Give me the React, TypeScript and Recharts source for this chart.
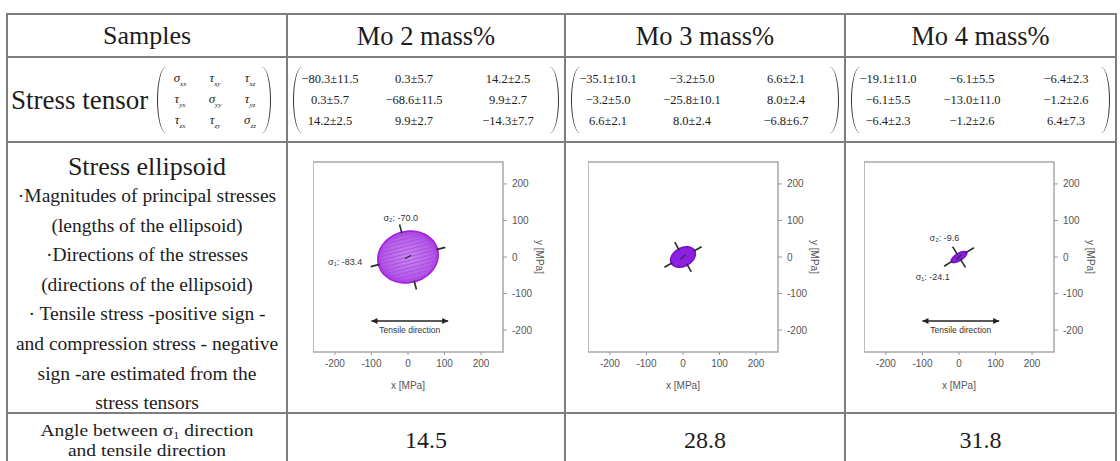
import React from "react";
import { ScatterChart, Scatter, XAxis, YAxis, ReferenceArea } from "recharts";

// table content
const sampleNames = ["Mo 2 mass%", "Mo 3 mass%", "Mo 4 mass%"];
const tensorMo2 = [
  ["−80.3±11.5", "0.3±5.7", "14.2±2.5"],
  ["0.3±5.7", "−68.6±11.5", "9.9±2.7"],
  ["14.2±2.5", "9.9±2.7", "−14.3±7.7"],
];
const tensorMo3 = [
  ["−35.1±10.1", "−3.2±5.0", "6.6±2.1"],
  ["−3.2±5.0", "−25.8±10.1", "8.0±2.4"],
  ["6.6±2.1", "8.0±2.4", "−6.8±6.7"],
];
const tensorMo4 = [
  ["−19.1±11.0", "−6.1±5.5", "−6.4±2.3"],
  ["−6.1±5.5", "−13.0±11.0", "−1.2±2.6"],
  ["−6.4±2.3", "−1.2±2.6", "6.4±7.3"],
];
const tensorSymbols = [
  [["σ", "xx"], ["τ", "xy"], ["τ", "xz"]],
  [["τ", "yx"], ["σ", "yy"], ["τ", "yz"]],
  [["τ", "zx"], ["τ", "zy"], ["σ", "zz"]],
];
const ellipsoidNotes = [
  "·Magnitudes of principal stresses",
  "(lengths of the ellipsoid)",
  "·Directions of the stresses",
  "(directions of the ellipsoid)",
  "· Tensile stress -positive sign -",
  "and compression stress - negative",
  "sign -are estimated from the",
  "stress tensors",
];
const angleValues = ["14.5", "28.8", "31.8"];

// ellipse data (MPa, degrees)
const sigma1 = [-83.4, -36.1, -24.1];
const sigma2 = [-70.0, -24.8, -9.6];
const sigmaAngle = [14.5, 28.8, 31.8];
const axisTicks = [-200, -100, 0, 100, 200];
const sigma1Label = [{ x: -172, y: -14 }, null, { x: -72, y: -56 }];
const sigma2Label = [{ x: -20, y: 107 }, null, { x: -40, y: 51 }];
const tensileArrow = [[{ x: -100, y: -175 }, { x: 110, y: -175 }], null, [{ x: -100, y: -175 }, { x: 110, y: -175 }]];
const tensileLabel = [{ x: 5, y: -200 }, null, { x: 5, y: -200 }];
const whiskerLen = [22, 22, 24];

const fillColors = ["url(#ellGrad0)", "#8c1fe2", "#8c1fe2"];
const edgeColors = ["#a51fdc", "#7a10c8", "#7a10c8"];

const colX = [7, 287, 565, 845, 1116];
const rowY = [14, 57, 142, 413, 480];
const tensors = [tensorMo2, tensorMo3, tensorMo4];
const plotLeft = [313, 588, 864];

const serif = "'Liberation Serif', 'Times New Roman', serif";
const sans = "'Liberation Sans', Arial, sans-serif";
const D = 260;

const none = () => <g />;

function EllipsoidPlot({ i }: { i: number }) {
  const a = Math.abs(sigma1[i]);
  const b = Math.abs(sigma2[i]);
  const th = (sigmaAngle[i] * Math.PI) / 180;
  const rot = (u: number, v: number) => ({
    x: u * Math.cos(th) - v * Math.sin(th),
    y: u * Math.sin(th) + v * Math.cos(th),
  });
  const outline: { x: number; y: number }[] = [];
  for (let k = 0; k <= 72; k++) {
    const t = (k * 2 * Math.PI) / 72;
    outline.push(rot(a * Math.cos(t), b * Math.sin(t)));
  }
  const w = whiskerLen[i];
  const whiskers = [
    [rot(a - 3, 0), rot(a + w, 0)],
    [rot(-a + 3, 0), rot(-a - w, 0)],
    [rot(0, b - 3), rot(0, b + w)],
    [rot(0, -b + 3), rot(0, -b - w)],
  ];
  const hatch: { x: number; y: number }[][] = [];
  if (i === 0) {
    for (let v = -60; v <= 60; v += 10) {
      const u = a * Math.sqrt(1 - (v * v) / (b * b));
      hatch.push([rot(-u + 2, v), rot(u - 2, v)]);
    }
  }
  const arrow = tensileArrow[i];
  const labels: { x: number; y: number; text: string; size: number }[] = [];
  if (sigma1Label[i]) labels.push({ ...sigma1Label[i]!, text: `σ₁: ${sigma1[i].toFixed(1)}`, size: 9 });
  if (sigma2Label[i]) labels.push({ ...sigma2Label[i]!, text: `σ₂: ${sigma2[i].toFixed(1)}`, size: 9 });
  if (tensileLabel[i]) labels.push({ ...tensileLabel[i]!, text: "Tensile direction", size: 8.5 });

  return (
    <ScatterChart width={250} height={252} margin={{ top: 20, right: 0, left: 0, bottom: 0 }}>
      <defs>
        <radialGradient id="ellGrad0" cx="50%" cy="50%" r="55%">
          <stop offset="0%" stopColor="#c98af2" />
          <stop offset="75%" stopColor="#b55ae8" />
          <stop offset="100%" stopColor="#a52ddf" />
        </radialGradient>
      </defs>
      <XAxis
        type="number"
        dataKey="x"
        domain={[-D, D]}
        ticks={axisTicks}
        allowDataOverflow
        axisLine={false}
        tickSize={3}
        tickMargin={5}
        tickLine={{ stroke: "#999" }}
        tick={{ fontSize: 10, fill: "#555", fontFamily: sans }}
        height={42}
        label={{ value: "x [MPa]", position: "insideBottom", offset: 5, fontSize: 10, fill: "#555", fontFamily: sans }}
      />
      <XAxis xAxisId="top" orientation="top" type="number" domain={[-D, D]} ticks={axisTicks} mirror axisLine={false}
        tickSize={3} tickLine={{ stroke: "#aaa" }} tickFormatter={() => ""} height={0} />
      <YAxis
        type="number"
        dataKey="y"
        orientation="right"
        domain={[-D, D]}
        ticks={axisTicks}
        allowDataOverflow
        axisLine={false}
        tickSize={4}
        tickMargin={5}
        tickLine={{ stroke: "#999" }}
        tick={{ fontSize: 10, fill: "#555", fontFamily: sans }}
        width={60}
        label={(p: any) => {
          const vb = p.viewBox || {};
          const x = (vb.x || 0) + 36;
          const y = (vb.y || 0) + (vb.height || 0) / 2;
          return (
            <text x={x} y={y} transform={`rotate(90, ${x}, ${y})`} textAnchor="middle" dominantBaseline="central"
              fontSize={10} fill="#555" fontFamily={sans}>y [MPa]</text>
          );
        }}
      />
      <YAxis yAxisId="left" orientation="left" type="number" domain={[-D, D]} ticks={axisTicks} mirror axisLine={false}
        tickSize={3} tickLine={{ stroke: "#aaa" }} tickFormatter={() => ""} width={0} />
      <ReferenceArea x1={-D} x2={D} y1={-D} y2={D} fill="none" stroke="#a8a8a8" strokeWidth={1.5} fillOpacity={0} />
      <Scatter data={outline} shape={none} isAnimationActive={false}
        line={{ fill: fillColors[i], stroke: edgeColors[i], strokeWidth: 1.6 }} />
      {hatch.map((seg, k) => (
        <Scatter key={"h" + k} data={seg} shape={none} isAnimationActive={false}
          line={{ stroke: "#a447dc", strokeWidth: 0.8 }} />
      ))}
      {whiskers.map((seg, k) => (
        <Scatter key={"w" + k} data={seg} shape={none} isAnimationActive={false}
          line={{ stroke: "#2a2a2a", strokeWidth: 1.6 }} />
      ))}
      <Scatter data={[rot(-9, -2), rot(9, 2)]} shape={none} isAnimationActive={false}
        line={{ stroke: "#333", strokeWidth: 1.4 }} />
      {arrow && (
        <Scatter
          data={[{ ...arrow[0], dir: -1 }, { ...arrow[1], dir: 1 }]}
          isAnimationActive={false}
          line={{ stroke: "#222", strokeWidth: 1.4 }}
          shape={(p: any) => {
            const d = p.payload.dir;
            return (
              <path d={`M${p.cx},${p.cy} L${p.cx - d * 6},${p.cy - 3} L${p.cx - d * 6},${p.cy + 3} Z`} fill="#222" />
            );
          }}
        />
      )}
      <Scatter
        data={labels}
        isAnimationActive={false}
        shape={(p: any) => (
          <text x={p.cx} y={p.cy} textAnchor="middle" dominantBaseline="central" fontSize={p.payload.size}
            fill="#333" fontFamily={sans}>{p.payload.text}</text>
        )}
      />
    </ScatterChart>
  );
}

function HLine({ y, x1, x2 }: { y: number; x1: number; x2: number }) {
  return <div style={{ position: "absolute", left: x1 - 1, top: y - 1, width: x2 - x1 + 2, height: 2, background: "#7d7d7d" }} />;
}
function VLine({ x, y1, y2 }: { x: number; y1: number; y2: number }) {
  return <div style={{ position: "absolute", left: x - 1, top: y1 - 1, width: 2, height: y2 - y1 + 2, background: "#7d7d7d" }} />;
}

function Center({ x1, x2, y, children, style, sy }: any) {
  return (
    <div style={{ position: "absolute", left: x1, width: x2 - x1, top: y, transform: `translateY(-50%) scaleY(${sy || 1})`,
      textAlign: "center", whiteSpace: "nowrap", lineHeight: 1.15, ...style }}>{children}</div>
  );
}

const tensorRowY = [79, 100, 121];
const tensorColX = [43, 127, 221];

export default function App() {
  return (
    <div style={{ position: "fixed", left: 0, top: 0, width: 1120, height: 461, overflow: "hidden", background: "#fff",
      fontFamily: serif, color: "#1c1c1c" }}>
      {rowY.slice(0, 4).map((y, k) => <HLine key={"r" + k} y={y} x1={colX[0]} x2={colX[4]} />)}
      {colX.map((x, k) => <VLine key={"c" + k} x={x} y1={rowY[0]} y2={rowY[4]} />)}

      {/* header */}
      <Center x1={colX[0]} x2={colX[1]} y={36} style={{ fontSize: 26 }}>Samples</Center>
      {sampleNames.map((s, k) => (
        <Center key={s} x1={colX[k + 1]} x2={colX[k + 2]} y={36} style={{ fontSize: 26.5 }}>{s}</Center>
      ))}

      {/* stress tensor row */}
      <div style={{ position: "absolute", left: 11, top: 100, transform: "translateY(-50%)", fontSize: 27, whiteSpace: "nowrap" }}>
        Stress tensor
      </div>
      <div style={{ position: "absolute", left: 157, top: 67, width: 112, height: 66, borderLeft: "1.3px solid #333",
        borderRight: "1.3px solid #333", borderRadius: "9px / 33px" }} />
      {tensorSymbols.map((row, r) =>
        row.map(([s, sub], c) => (
          <div key={`s${r}${c}`} style={{ position: "absolute", left: 180 + c * 35, top: tensorRowY[r], transform: "translate(-50%, -50%)",
            fontSize: 13, fontStyle: "italic", whiteSpace: "nowrap" }}>
            {s}<sub style={{ fontSize: 7 }}>{sub}</sub>
          </div>
        ))
      )}
      {tensors.map((t, k) => (
        <React.Fragment key={"t" + k}>
          <div style={{ position: "absolute", left: colX[k + 1] + 6, top: 67, width: colX[k + 2] - colX[k + 1] - 14, height: 66,
            borderLeft: "1.3px solid #333", borderRight: "1.3px solid #333", borderRadius: "9px / 33px" }} />
          {t.map((row, r) =>
            row.map((v, c) => (
              <div key={`${k}${r}${c}`} style={{ position: "absolute", left: colX[k + 1] + tensorColX[c], top: tensorRowY[r],
                transform: "translate(-50%, -50%)", fontSize: 12.5, whiteSpace: "nowrap" }}>{v}</div>
            ))
          )}
        </React.Fragment>
      ))}

      {/* ellipsoid row */}
      <Center x1={colX[0]} x2={colX[1]} y={167} style={{ fontSize: 26 }}>Stress ellipsoid</Center>
      {ellipsoidNotes.map((n, k) => (
        <Center key={n} x1={colX[0] - 10} x2={colX[1] + 10} y={196 + k * 29.6} style={{ fontSize: 19.5 }}>{n}</Center>
      ))}
      {[0, 1, 2].map((k) => (
        <div key={"p" + k} style={{ position: "absolute", left: plotLeft[k], top: rowY[2] }}>
          <EllipsoidPlot i={k} />
        </div>
      ))}

      {/* angle row */}
      <Center x1={colX[0]} x2={colX[1]} y={431} sy={0.85} style={{ fontSize: 19.5, lineHeight: "16px" }}>
        Angle between σ<span style={{ fontSize: 12, verticalAlign: "-3px", lineHeight: 0 }}>1</span> direction
      </Center>
      <Center x1={colX[0]} x2={colX[1]} y={451} sy={0.85} style={{ fontSize: 19.5, lineHeight: "16px" }}>and tensile direction</Center>
      {angleValues.map((v, k) => (
        <Center key={v} x1={colX[k + 1]} x2={colX[k + 2]} y={441} style={{ fontSize: 24 }}>{v}</Center>
      ))}
    </div>
  );
}
